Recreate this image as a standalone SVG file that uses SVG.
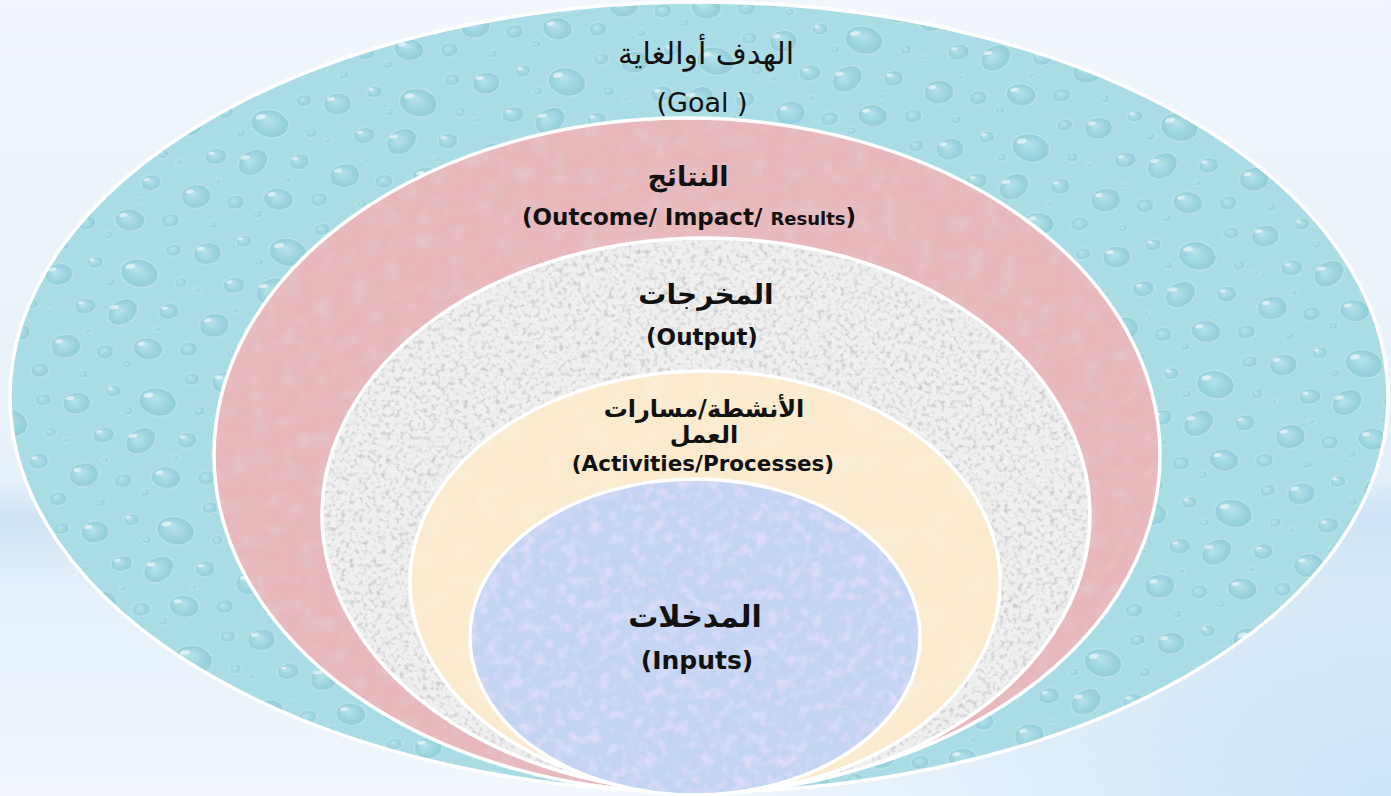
<svg xmlns="http://www.w3.org/2000/svg" width="1391" height="796" viewBox="0 0 1391 796">
<style>
.ring{stroke:#ffffff;stroke-width:3.5}
.ar{font-family:"DejaVu Sans",sans-serif;fill:#111;text-anchor:middle;direction:rtl}
.en{font-family:"DejaVu Sans",sans-serif;fill:#111;text-anchor:middle}
.b{font-weight:bold}
.d{fill:url(#dropG);stroke:#d4f1f5;stroke-width:1;opacity:.55}
.h{fill:#ffffff;opacity:.6}
</style>
<defs>
<linearGradient id="bg" x1="0" y1="0" x2="0" y2="1">
<stop offset="0" stop-color="#f1f7fc"/>
<stop offset="0.6" stop-color="#e7f1fa"/>
<stop offset="0.65" stop-color="#cfe3f5"/>
<stop offset="0.74" stop-color="#e4f0fa"/>
<stop offset="1" stop-color="#f2f8fd"/>
</linearGradient>
<radialGradient id="bg2" cx="1" cy="1" r="0.5">
<stop offset="0" stop-color="#c9e2f7" stop-opacity="0.9"/>
<stop offset="1" stop-color="#c9e2f7" stop-opacity="0"/>
</radialGradient>
<radialGradient id="dropG" cx="0.5" cy="0.55" r="0.6" fx="0.4" fy="0.35">
<stop offset="0" stop-color="#c2eaf0"/>
<stop offset="0.6" stop-color="#8ccbd7"/>
<stop offset="1" stop-color="#72b9c8"/>
</radialGradient>
<pattern id="drops" patternUnits="userSpaceOnUse" width="150" height="130" patternTransform="rotate(-8)">
<rect width="150" height="130" fill="#a9dce4"/>
<ellipse class="d" cx="20" cy="20" rx="14" ry="11"/>
<ellipse class="h" cx="14" cy="14" rx="4" ry="2"/>
<ellipse class="d" cx="58" cy="13" rx="8" ry="6"/>
<ellipse class="h" cx="55" cy="10" rx="2.5" ry="1.5"/>
<ellipse class="d" cx="100" cy="30" rx="19" ry="14" transform="rotate(20 100 30)"/>
<ellipse class="h" cx="92" cy="22" rx="5" ry="2.5"/>
<ellipse class="d" cx="137" cy="12" rx="8" ry="6"/>
<ellipse class="d" cx="42" cy="55" rx="11" ry="8"/>
<ellipse class="h" cx="38" cy="51" rx="3" ry="1.5"/>
<ellipse class="d" cx="78" cy="66" rx="16" ry="12" transform="rotate(-25 78 66)"/>
<ellipse class="h" cx="71" cy="60" rx="4.5" ry="2"/>
<ellipse class="d" cx="124" cy="72" rx="10" ry="8"/>
<ellipse class="h" cx="120" cy="68" rx="3" ry="1.5"/>
<ellipse class="d" cx="17" cy="92" rx="15" ry="12"/>
<ellipse class="h" cx="11" cy="86" rx="4" ry="2"/>
<ellipse class="d" cx="55" cy="103" rx="9" ry="7"/>
<ellipse class="d" cx="98" cy="106" rx="15" ry="11" transform="rotate(15 98 106)"/>
<ellipse class="h" cx="92" cy="100" rx="4" ry="2"/>
<ellipse class="d" cx="138" cy="112" rx="9" ry="7"/>
<ellipse class="d" cx="30" cy="122" rx="5" ry="4"/>
<ellipse class="d" cx="70" cy="35" rx="5" ry="4"/>
<ellipse class="d" cx="140" cy="45" rx="6" ry="5"/>
<ellipse class="d" cx="40" cy="80" rx="4" ry="3"/>
<ellipse class="d" cx="110" cy="88" rx="4" ry="3"/>
<ellipse class="d" cx="75" cy="118" rx="5" ry="4"/>
<ellipse class="d" cx="5" cy="55" rx="4" ry="3"/>
</pattern>
<filter id="pinkTex" x="0" y="0" width="1" height="1">
<feTurbulence type="fractalNoise" baseFrequency="0.06" numOctaves="3" seed="4" result="n"/>
<feColorMatrix in="n" type="matrix" values="0 0 0 0 0.78  0 0 0 0 0.55  0 0 0 0 0.57  2.2 0 0 0 -1.0" result="c"/>
<feComposite in="c" in2="SourceGraphic" operator="in"/>
</filter>
<filter id="greyTex" x="0" y="0" width="1" height="1">
<feTurbulence type="fractalNoise" baseFrequency="0.22" numOctaves="2" seed="7" result="n"/>
<feColorMatrix in="n" type="matrix" values="0 0 0 0 0.6  0 0 0 0 0.6  0 0 0 0 0.6  3 0 0 0 -1.45" result="c"/>
<feComposite in="c" in2="SourceGraphic" operator="in"/>
</filter>
<filter id="blueTex" x="0" y="0" width="1" height="1">
<feTurbulence type="fractalNoise" baseFrequency="0.09" numOctaves="3" seed="2" result="n"/>
<feColorMatrix in="n" type="matrix" values="0 0 0 0 0.82  0 0 0 0 0.74  0 0 0 0 0.95  1.8 0 0 0 -0.8" result="c"/>
<feComposite in="c" in2="SourceGraphic" operator="in"/>
</filter>
<filter id="yelTex" x="0" y="0" width="1" height="1">
<feTurbulence type="fractalNoise" baseFrequency="0.04" numOctaves="2" seed="9" result="n"/>
<feColorMatrix in="n" type="matrix" values="0 0 0 0 0.97  0 0 0 0 0.88  0 0 0 0 0.74  1.6 0 0 0 -0.75" result="c"/>
<feComposite in="c" in2="SourceGraphic" operator="in"/>
</filter>
</defs>

<rect width="1391" height="796" fill="url(#bg)"/>
<rect width="1391" height="796" fill="url(#bg2)"/>

<g id="goal">
<ellipse class="ring" cx="699" cy="397" rx="689" ry="395" fill="url(#drops)"/>
<text class="ar" x="706" y="64" font-size="30">الهدف أوالغاية</text>
<text class="en" x="702" y="112" font-size="27">(Goal )</text>
</g>

<g id="outcome">
<ellipse class="ring" cx="687" cy="455" rx="473" ry="337" fill="#e8b8bc"/>
<ellipse cx="687" cy="455" rx="471" ry="335" fill="#e8b8bc" filter="url(#pinkTex)"/>
<text class="ar b" x="688" y="186" font-size="27">النتائج</text>
<text class="en b" x="689" y="225" font-size="23">(Outcome/ Impact/ <tspan font-size="18">Results</tspan>)</text>
</g>

<g id="output">
<ellipse class="ring" cx="706" cy="515" rx="384" ry="277" fill="#efefef"/>
<ellipse cx="706" cy="515" rx="382" ry="275" fill="#efefef" filter="url(#greyTex)"/>
<text class="ar b" x="706" y="304" font-size="28">المخرجات</text>
<text class="en b" x="702" y="345" font-size="23">(Output)</text>
</g>

<g id="activities">
<ellipse class="ring" cx="705" cy="582" rx="295" ry="211" fill="#fbeacd"/>
<ellipse cx="705" cy="582" rx="293" ry="209" fill="#fbeacd" filter="url(#yelTex)"/>
<text class="ar b" x="704" y="417" font-size="24">الأنشطة/مسارات</text>
<text class="ar b" x="704" y="443" font-size="24">العمل</text>
<text class="en b" x="703" y="471" font-size="21.5">(Activities/Processes)</text>
</g>

<g id="inputs">
<ellipse class="ring" cx="695" cy="637" rx="225" ry="158" fill="#c3d5f3"/>
<ellipse cx="695" cy="637" rx="223" ry="156" fill="#c3d5f3" filter="url(#blueTex)"/>
<text class="ar b" x="695" y="627" font-size="30">المدخلات</text>
<text class="en b" x="697" y="669" font-size="25">(Inputs)</text>
</g>

<g id="connectors"></g>
</svg>
